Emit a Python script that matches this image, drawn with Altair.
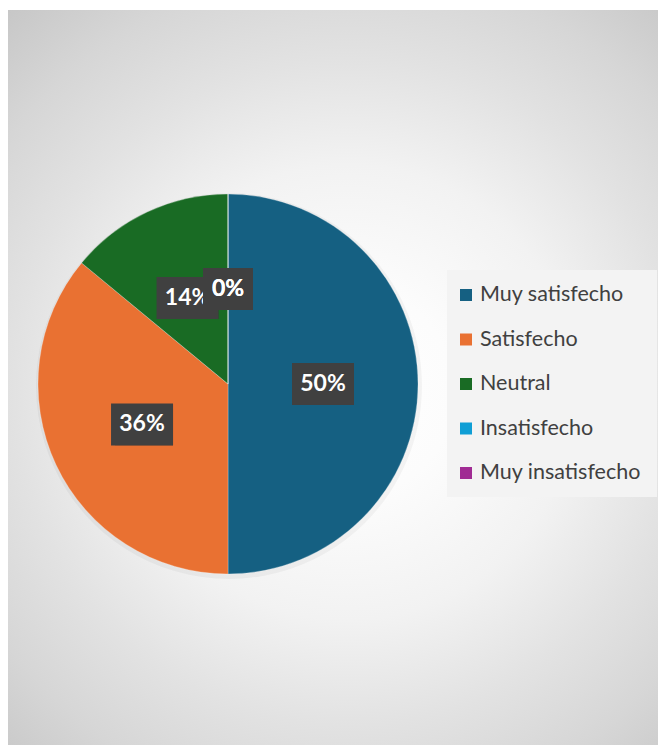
import altair as alt
import pandas as pd

categories = ["Muy satisfecho", "Satisfecho", "Neutral", "Insatisfecho", "Muy insatisfecho"]
values = [50, 36, 14, 0, 0]
colors = ["#156082", "#E97132", "#196B24", "#0F9ED5", "#A02B93"]

W, H = 650, 737
CX, CY, R = 220, 376, 190
LR = 95  # label radius
LEG_X, LEG_Y, LEG_STEP = 458, 287, 44.5

df = pd.DataFrame({"category": categories, "value": values, "idx": list(range(len(categories)))})

base = alt.Chart(df)
color_scale = alt.Scale(domain=categories, range=colors)

bg = alt.Chart(alt.Data(values=[{"a": 1}])).mark_rect(
    color={
        "gradient": "radial",
        "x1": 0.52, "y1": 0.52, "x2": 0.52, "y2": 0.52,
        "r1": 0, "r2": 0.72,
        "stops": [
            {"offset": 0, "color": "#ffffff"},
            {"offset": 0.2, "color": "#fcfcfc"},
            {"offset": 0.43, "color": "#f2f2f2"},
            {"offset": 0.63, "color": "#e2e2e2"},
            {"offset": 0.8, "color": "#d6d6d6"},
            {"offset": 1, "color": "#c4c4c4"},
        ],
    }
).encode(x=alt.value(0), x2=alt.value(W), y=alt.value(2), y2=alt.value(H))

shadow = base.mark_arc(radius=R + 3, color="#000000", opacity=0.04).encode(
    theta=alt.Theta("value:Q", stack=True),
    order=alt.Order("idx:Q"),
    x=alt.value(CX + 1), y=alt.value(CY + 2),
)

pie = base.mark_arc(radius=R, stroke="#ffffff", strokeWidth=0.5, strokeOpacity=0.5).encode(
    theta=alt.Theta("value:Q", stack=True),
    color=alt.Color("category:N", scale=color_scale, sort=categories, legend=None),
    order=alt.Order("idx:Q"),
    x=alt.value(CX), y=alt.value(CY),
)

# legend built from the category list
leg_box = alt.Chart(alt.Data(values=[{"a": 1}])).mark_rect(color="#f3f3f3").encode(
    x=alt.value(439), x2=alt.value(649), y=alt.value(262), y2=alt.value(489)
)
leg = base.transform_calculate(ly=f"{LEG_Y} + datum.idx * {LEG_STEP}")
leg_sym = leg.mark_square(size=144, opacity=1).encode(
    x=alt.value(LEG_X),
    y=alt.Y("ly:Q", scale=None, axis=None),
    color=alt.Color("category:N", scale=color_scale, sort=categories, legend=None),
)
leg_txt = leg.mark_text(align="left", baseline="middle", font="Lato", fontSize=21.5,
                        color="#404040").encode(
    x=alt.value(LEG_X + 14),
    y=alt.Y("ly:Q", scale=None, axis=None),
    text="category:N",
)

lab = base.transform_joinaggregate(total="sum(value)").transform_window(
    cum="sum(value)", sort=[alt.SortField("idx")], frame=[None, 0]
).transform_calculate(
    mid="(datum.cum - datum.value/2) / datum.total * 2 * PI",
    label="datum.value + '%'",
).transform_calculate(
    lx=f"{CX} + {LR} * sin(datum.mid)",
    ly=f"{CY} - {LR} * cos(datum.mid)",
    bw="12 * length(datum.label) + 26",
).transform_calculate(
    bx1="datum.lx - datum.bw/2", bx2="datum.lx + datum.bw/2",
    by1="datum.ly - 21", by2="datum.ly + 21",
)


def label_layers(cond):
    src = lab.transform_filter(cond)
    sh = src.mark_rect(color="#000000", opacity=0.22).encode(
        x=alt.X("bx1:Q", scale=None, axis=None), x2="bx2:Q",
        y=alt.Y("by1:Q", scale=None, axis=None), y2="by2:Q",
        xOffset=alt.value(4), yOffset=alt.value(5),
    )
    box = src.mark_rect(color="#404040").encode(
        x=alt.X("bx1:Q", scale=None, axis=None), x2="bx2:Q",
        y=alt.Y("by1:Q", scale=None, axis=None), y2="by2:Q",
    )
    txt = src.mark_text(color="#ffffff", font="Lato", fontWeight="bold", fontSize=23,
                        align="center", baseline="middle").encode(
        x=alt.X("lx:Q", scale=None, axis=None),
        y=alt.Y("ly:Q", scale=None, axis=None),
        text="label:N",
    )
    return [sh, box, txt]


layers = ([bg, shadow, pie, leg_box, leg_sym, leg_txt]
          + label_layers("datum.idx <= 2") + label_layers("datum.idx > 2"))

chart = alt.layer(*layers).properties(
    width=W, height=H, autosize="none", padding=0
).configure_view(stroke=None)

chart.save("out.html", embed_options={"renderer": "svg", "actions": False})
